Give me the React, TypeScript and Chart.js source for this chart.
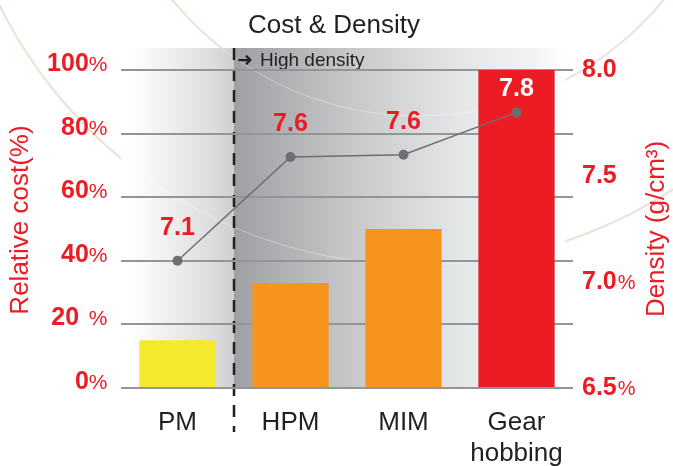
import React, { useEffect, useRef } from 'react';
import { Chart, registerables } from 'chart.js';

Chart.register(...registerables);

// ---- data ----
const categories = [['PM'], ['HPM'], ['MIM'], ['Gear', 'hobbing']];
const relativeCost = [15, 33, 50, 100];
const density = [7.1, 7.59, 7.6, 7.8];
const costTickLabels = ['0%', '20 %', '40%', '60%', '80%', '100%'];
const densityTickLabels = ['6.5%', '7.0%', '7.5', '8.0'];
const titleText = 'Cost & Density';
const costAxisTitle = 'Relative cost(%)';
const densityAxisTitle = 'Density (g/cm³)';
const highDensityNote = 'High density';

// ---- styles ----
const barColors = ['#f4e92d', '#f7941d', '#f7941d', '#ed1c24'];
const RED = '#ed1c24';
const DARK = '#231f20';
const LINE_GRAY = '#6d6e71';
const GRID_GRAY = '#939598';
const FONT = '"Liberation Sans", Arial, Helvetica, sans-serif';

function drawArcs(ctx: CanvasRenderingContext2D) {
  for (const r of [467, 318]) {
    ctx.beginPath();
    ctx.arc(418, -202, r, 0, Math.PI * 2);
    ctx.stroke();
  }
}

function splitLabel(lab: string) {
  const m = lab.match(/^([\d.]+)(\s*)(%?)$/);
  if (!m) return { num: lab, space: '', pct: '' };
  return { num: m[1], space: m[2], pct: m[3] };
}

const decorPlugin = {
  id: 'decor',
  beforeDraw(chart: any) {
    const { ctx, chartArea: ca, scales } = chart;
    const xs = scales.x;
    const split = (xs.getPixelForValue(0) + xs.getPixelForValue(1)) / 2;
    const top = ca.top - 22;
    const bottom = ca.bottom;
    const rightEnd = ca.right - 8;
    ctx.save();
    ctx.fillStyle = '#ffffff';
    ctx.fillRect(0, 0, chart.width, chart.height);
    // decorative arcs
    ctx.strokeStyle = 'rgba(225,196,178,0.55)';
    ctx.lineWidth = 2;
    drawArcs(ctx);
    // left gradient band
    let g = ctx.createLinearGradient(ca.left, 0, split, 0);
    g.addColorStop(0, '#ffffff');
    g.addColorStop(0.1, '#fefefe');
    g.addColorStop(0.5, '#ebebec');
    g.addColorStop(0.8, '#dcdddf');
    g.addColorStop(1, '#cdced0');
    ctx.fillStyle = g;
    ctx.fillRect(ca.left, top, split - ca.left, bottom - top);
    // right gradient band
    g = ctx.createLinearGradient(split, 0, rightEnd, 0);
    g.addColorStop(0, '#9fa0a3');
    g.addColorStop(0.35, '#c6c7c9');
    g.addColorStop(0.45, '#d0d1d3');
    g.addColorStop(0.7, '#e6e7e8');
    g.addColorStop(0.9, '#f2f2f3');
    g.addColorStop(1, '#ffffff');
    ctx.fillStyle = g;
    ctx.fillRect(split, top, rightEnd - split, bottom - top);
    // faint arcs over band
    ctx.save();
    ctx.beginPath();
    ctx.rect(ca.left, top, rightEnd - ca.left, bottom - top);
    ctx.clip();
    ctx.strokeStyle = 'rgba(255,255,255,0.35)';
    ctx.lineWidth = 1;
    drawArcs(ctx);
    ctx.restore();
    // dashed divider
    ctx.setLineDash([12, 9]);
    ctx.strokeStyle = DARK;
    ctx.lineWidth = 2.5;
    ctx.beginPath();
    ctx.moveTo(split, top);
    ctx.lineTo(split, bottom + 44);
    ctx.stroke();
    ctx.setLineDash([]);
    // note
    ctx.fillStyle = DARK;
    ctx.textAlign = 'left';
    ctx.textBaseline = 'alphabetic';
    ctx.font = 'bold 19px "DejaVu Sans", sans-serif';
    ctx.fillText('➜', split + 3, ca.top - 4);
    ctx.font = `19px ${FONT}`;
    ctx.fillText(highDensityNote, split + 26, ca.top - 4);
    // title
    ctx.textAlign = 'center';
    ctx.font = `26px ${FONT}`;
    ctx.fillText(titleText, 334, 33);
    ctx.restore();
  },
  afterDraw(chart: any) {
    const { ctx, chartArea: ca, scales } = chart;
    const cost = scales.cost;
    const dens = scales.density;
    ctx.save();
    ctx.fillStyle = RED;
    // left tick labels (baseline on gridline)
    ctx.textBaseline = 'alphabetic';
    ctx.textAlign = 'right';
    const lx = ca.left - 13.5;
    cost.ticks.forEach((t: any, i: number) => {
      const y = cost.getPixelForValue(t.value) + 1;
      const { num, space, pct } = splitLabel(costTickLabels[i] ?? String(t.value));
      ctx.font = `21px ${FONT}`;
      const pw = ctx.measureText(pct).width;
      ctx.fillText(pct, lx, y);
      ctx.font = `bold 25px ${FONT}`;
      const sw = space ? ctx.measureText(' ').width * 1.4 : 0;
      ctx.fillText(num, lx - pw - sw, y);
    });
    // right tick labels (centered)
    ctx.textBaseline = 'middle';
    ctx.textAlign = 'left';
    const rx = ca.right + 9;
    dens.ticks.forEach((t: any, i: number) => {
      const y = dens.getPixelForValue(t.value);
      const { num, pct } = splitLabel(densityTickLabels[i] ?? String(t.value));
      ctx.font = `bold 25px ${FONT}`;
      const nw = ctx.measureText(num).width;
      ctx.fillText(num, rx, y);
      if (pct) {
        ctx.font = `20px ${FONT}`;
        ctx.fillText(pct, rx + nw + 1, y + 1);
      }
    });
    // axis titles
    ctx.font = `26px ${FONT}`;
    ctx.textAlign = 'center';
    ctx.textBaseline = 'middle';
    ctx.save();
    ctx.translate(21, 220);
    ctx.rotate(-Math.PI / 2);
    ctx.fillText(costAxisTitle, 0, 0);
    ctx.restore();
    ctx.save();
    ctx.translate(657, 229);
    ctx.rotate(-Math.PI / 2);
    ctx.fillText(densityAxisTitle, 0, 0);
    ctx.restore();
    // data labels for density
    const barMeta = chart.getDatasetMeta(0);
    const lineMeta = chart.getDatasetMeta(1);
    ctx.font = `bold 25px ${FONT}`;
    ctx.textAlign = 'center';
    ctx.textBaseline = 'alphabetic';
    lineMeta.data.forEach((pt: any, i: number) => {
      const bar = barMeta.data[i];
      const inside = pt.y > bar.y;
      ctx.fillStyle = inside ? '#ffffff' : RED;
      ctx.fillText(density[i].toFixed(1), pt.x, pt.y - (inside ? 16 : 26));
    });
    ctx.restore();
  },
};

export default function App() {
  const ref = useRef<HTMLCanvasElement>(null);
  useEffect(() => {
    if (!ref.current) return;
    const chart = new Chart(ref.current, {
      type: 'bar',
      data: {
        labels: categories,
        datasets: [
          {
            type: 'bar',
            label: 'Relative cost',
            data: relativeCost,
            backgroundColor: barColors,
            borderWidth: 0,
            barPercentage: 0.675,
            categoryPercentage: 1,
            yAxisID: 'cost',
            order: 2,
          },
          {
            type: 'line',
            label: 'Density',
            data: density,
            borderColor: LINE_GRAY,
            borderWidth: 1.5,
            pointRadius: 5,
            pointBackgroundColor: LINE_GRAY,
            pointBorderWidth: 0,
            tension: 0,
            yAxisID: 'density',
            order: 1,
          },
        ],
      } as any,
      options: {
        responsive: false,
        animation: false,
        layout: { padding: { top: 70, left: 0, right: 0, bottom: 0 } },
        plugins: {
          legend: { display: false },
          title: { display: false },
          tooltip: { enabled: false },
        },
        scales: {
          x: {
            grid: { display: false, drawTicks: false },
            border: { display: false },
            ticks: {
              color: DARK,
              padding: 19,
              font: { family: FONT, size: 26, lineHeight: 1.2 },
            },
            afterFit: (s: any) => {
              s.height = 78;
            },
          },
          cost: {
            type: 'linear',
            position: 'left',
            min: 0,
            max: 100,
            z: 1,
            ticks: { stepSize: 20, display: false },
            grid: { color: GRID_GRAY, lineWidth: 2, drawTicks: false },
            border: { display: false },
            afterFit: (s: any) => {
              s.width = 121;
            },
          },
          density: {
            type: 'linear',
            position: 'right',
            min: 6.5,
            max: 8,
            ticks: { stepSize: 0.5, display: false },
            grid: { display: false, drawTicks: false },
            border: { display: false },
            afterFit: (s: any) => {
              s.width = 100;
            },
          },
        },
      } as any,
      plugins: [decorPlugin as any],
    });
    return () => chart.destroy();
  }, []);
  return (
    <div style={{ position: 'absolute', left: 0, top: 0, width: 673, height: 466, background: '#fff' }}>
      <canvas ref={ref} width={673} height={466} style={{ display: 'block' }} />
    </div>
  );
}
